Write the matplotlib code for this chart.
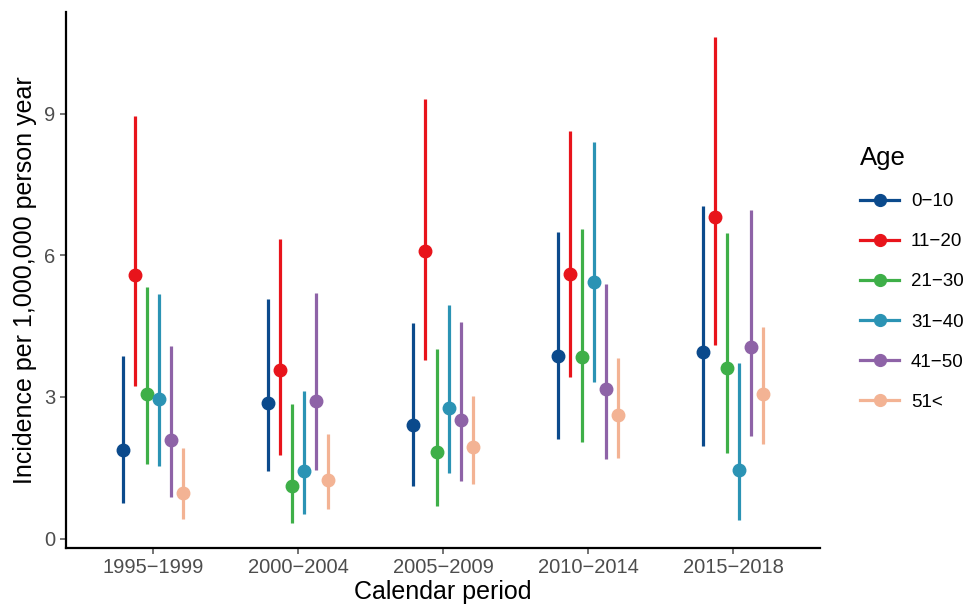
import numpy as np
import matplotlib
matplotlib.use("Agg")
from matplotlib import pyplot as plt
from matplotlib.lines import Line2D

plt.rcParams["font.family"] = ["Liberation Sans", "DejaVu Sans"]

periods = ["1995−1999", "2000−2004", "2005−2009", "2010−2014", "2015−2018"]
ages = ["0−10", "11−20", "21−30", "31−40", "41−50", "51<"]
colors = ["#0B4A8C", "#E8141B", "#3EAF48", "#2B93B4", "#8E63A7", "#F3B394"]

# point estimates, rows = age group, cols = period
est = [
    [1.88, 2.86, 2.41, 3.87, 3.94],
    [5.59, 3.56, 6.09, 5.60, 6.81],
    [3.06, 1.12, 1.84, 3.84, 3.62],
    [2.96, 1.44, 2.77, 5.43, 1.46],
    [2.08, 2.92, 2.50, 3.16, 4.06],
    [0.97, 1.25, 1.93, 2.62, 3.06],
]
lower = [
    [0.75, 1.42, 1.11, 2.11, 1.97],
    [3.24, 1.77, 3.78, 3.43, 4.10],
    [1.58, 0.32, 0.68, 2.05, 1.81],
    [1.53, 0.53, 1.39, 3.32, 0.40],
    [0.89, 1.46, 1.21, 1.68, 2.18],
    [0.42, 0.63, 1.15, 1.70, 2.00],
]
upper = [
    [3.87, 5.08, 4.56, 6.49, 7.05],
    [8.94, 6.35, 9.30, 8.64, 10.63],
    [5.33, 2.85, 4.01, 6.56, 6.48],
    [5.17, 3.13, 4.94, 8.39, 3.72],
    [4.08, 5.20, 4.59, 5.40, 6.95],
    [1.91, 2.21, 3.02, 3.82, 4.47],
]

fig = plt.figure(figsize=(9.73, 6.09), dpi=100)
ax = fig.add_axes([66 / 973, 61 / 609, 754 / 973, 536 / 609])

x = np.arange(1, len(periods) + 1)
dodge = 0.5
n = len(ages)
for i in range(n):
    off = (i - (n - 1) / 2) * dodge / n
    xi = x + off
    ax.vlines(xi, lower[i], upper[i], color=colors[i], lw=2.3)
    ax.plot(xi, est[i], "o", color=colors[i], ms=9, ls="none")

ax.set_xlim(0.4, 5.6)
ax.set_ylim(-0.2, 11.15)
ax.set_xticks(x)
ax.set_xticklabels(periods)
ax.set_yticks([0, 3, 6, 9])

for s in ["top", "right"]:
    ax.spines[s].set_visible(False)
for s in ["left", "bottom"]:
    ax.spines[s].set_linewidth(1.6)
    ax.spines[s].set_color("black")
ax.tick_params(axis="both", colors="#4D4D4D", labelsize=14.5, length=4, width=1.1)

ax.set_xlabel("Calendar period", fontsize=18, labelpad=2)
ax.set_ylabel("Incidence per 1,000,000 person year", fontsize=18, labelpad=5)

handles = [Line2D([0], [0], color=c, lw=2.3, marker="o", ms=8.5) for c in colors]
leg = fig.legend(handles, ages, title="Age", loc="upper left",
                 bbox_to_anchor=(843 / 973, 1 - 129 / 609), frameon=False,
                 fontsize=13.5, title_fontsize=18.5, handlelength=2.1,
                 labelspacing=1.23, handletextpad=0.62)
leg._legend_box.align = "left"

fig.savefig("out.png", dpi=100)
